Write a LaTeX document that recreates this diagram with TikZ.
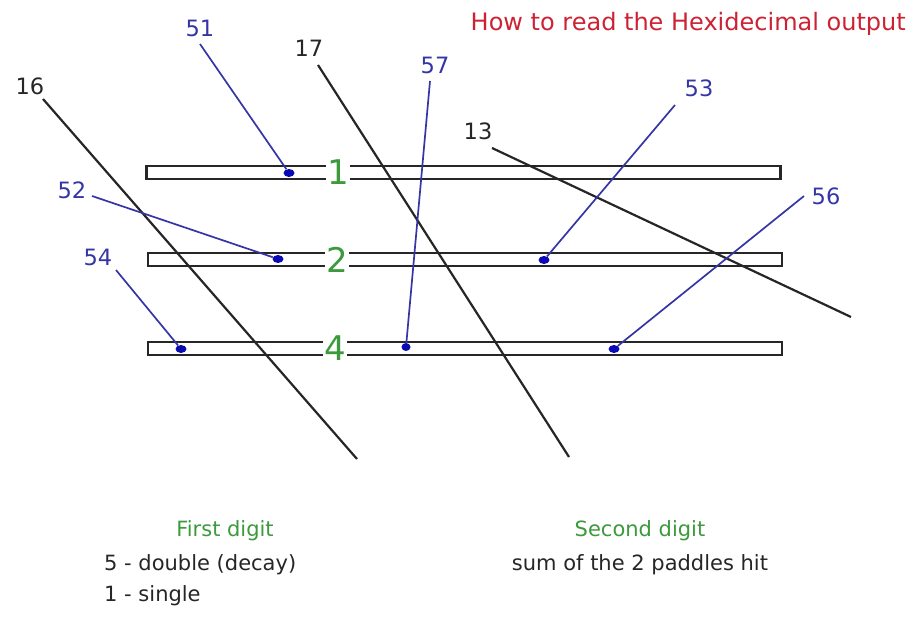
\documentclass[tikz,border=0pt]{standalone}
\usepackage{fontspec}
\setmainfont{DejaVu Sans}
\usetikzlibrary{shapes.geometric}
\definecolor{tblue}{HTML}{3535A5}
\definecolor{dblue}{HTML}{0A0AB5}
\definecolor{tgreen}{HTML}{3C9A3C}
\definecolor{tred}{HTML}{CC2233}
\tikzset{
  paddle/.style={draw=black!85, line width=2.2pt, fill=white, rectangle, inner sep=0pt, minimum height=13pt},
  num/.style={font=\fontsize{22.5}{24}\selectfont, inner sep=0pt},
  bnum/.style={num, text=tblue},
  knum/.style={num, text=black!85},
  dig/.style={font=\fontsize{34}{34}\selectfont, text=tgreen, fill=white, inner sep=1.5pt},
  hit/.style={ellipse, fill=dblue, inner sep=0pt, minimum width=11pt, minimum height=8pt},
  track/.style={draw=black!85, line width=2.2pt},
  ray/.style={draw=tblue, line width=1.7pt},
  txt/.style={font=\fontsize{21}{22}\selectfont, inner sep=0pt, text=black!85},
  gtxt/.style={txt, text=tgreen}
}
\begin{document}
\begin{tikzpicture}[x=1pt,y=-1pt]
\useasboundingbox (0,0) rectangle (915,617);
% paddles
\node[paddle, minimum width=634pt] (p1) at (463.5,172.5) {};
\node[paddle, minimum width=634pt] (p2) at (465,259.5) {};
\node[paddle, minimum width=634pt] (p3) at (465,348.5) {};
% title
\node[font=\fontsize{24}{24}\selectfont, text=tred, inner sep=0pt, anchor=east] (title) at (906,24) {How to read the Hexidecimal output};
% labels
\node[bnum] (l51) at (200,28) {51};
\node[knum] (l17) at (309,48) {17};
\node[bnum] (l57) at (435,65) {57};
\node[knum] (l16) at (30,86) {16};
\node[bnum] (l53) at (699,88) {53};
\node[knum] (l13) at (478,131) {13};
\node[bnum] (l52) at (72,190) {52};
\node[bnum] (l56) at (826,196) {56};
\node[bnum] (l54) at (98,257) {54};
% connector start points
\coordinate (s51) at (200,44);
\coordinate (s17) at (318,65);
\coordinate (s57) at (430,81);
\coordinate (s16) at (43,99);
\coordinate (s53) at (675,105);
\coordinate (s13) at (492,148);
\coordinate (s52) at (92,196);
\coordinate (s56) at (804,196);
\coordinate (s54) at (116,270);
% track ends
\coordinate (e16) at (357,459);
\coordinate (e17) at (569,457);
\coordinate (e13) at (851,317);
% hits
\node[hit] (d51) at (289,173) {};
\node[hit] (d52) at (278,259) {};
\node[hit] (d54) at (181,349) {};
\node[hit, minimum width=9pt, minimum height=8pt] (d57) at (406,347) {};
\node[hit] (d53) at (544,260) {};
\node[hit] (d56) at (614,349) {};
% tracks
\draw[track] (s16) -- (e16);
\draw[track] (s17) -- (e17);
\draw[track] (s13) -- (e13);
% rays
\draw[ray] (s51) -- (d51);
\draw[ray] (s52) -- (d52);
\draw[ray] (s54) -- (d54);
\draw[ray] (s57) -- (d57);
\draw[ray] (s53) -- (d53);
\draw[ray] (s56) -- (d56);
% paddle digits
\node[dig] (n1) at (338,172.5) {1};
\node[dig] (n2) at (337,259.5) {2};
\node[dig] (n4) at (335,348.5) {4};
% legend
\node[gtxt] (fd) at (225,531) {First digit};
\node[txt, anchor=west] (f5) at (104,565) {5 - double (decay)};
\node[txt, anchor=west] (f1) at (104,596) {1 - single};
\node[gtxt] (sd) at (640,531) {Second digit};
\node[txt] (ss) at (640,565) {sum of the 2 paddles hit};
\end{tikzpicture}
\end{document}
